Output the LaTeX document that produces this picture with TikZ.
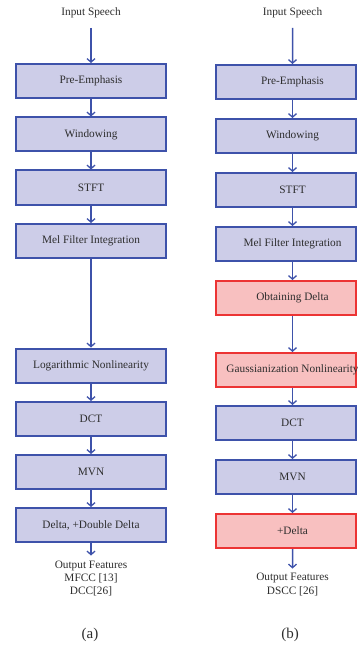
\documentclass[tikz,border=0pt]{standalone}
\usepackage{fontspec}
\setmainfont{Liberation Serif}
\usetikzlibrary{arrows.meta}
\definecolor{bfill}{RGB}{205,205,232}
\definecolor{bline}{RGB}{62,82,170}
\definecolor{rfill}{RGB}{248,192,192}
\definecolor{rline}{RGB}{236,52,52}
\definecolor{txt}{RGB}{45,45,45}
\begin{document}
\begin{tikzpicture}[x=1bp,y=-1bp,
  every node/.style={text=txt,font=\fontsize{11.3bp}{13.5bp}\selectfont},
  bbox/.style={draw=bline,fill=bfill,line width=2bp,minimum width=150bp,minimum height=34bp,inner sep=0pt},
  rbbox/.style={draw=bline,fill=bfill,line width=2bp,minimum width=140bp,minimum height=34bp,inner sep=0pt},
  rrbox/.style={draw=rline,fill=rfill,line width=2bp,minimum width=140bp,minimum height=34bp,inner sep=0pt},
  arr/.style={draw=bline,line width=1.5bp,-{Straight Barb[length=3.5bp,width=8bp,line width=1.3bp]}},
  lbl/.style={font=\fontsize{15bp}{18bp}\selectfont}
]
\useasboundingbox (0,0) rectangle (357,646);
\newcommand{\rt}[1]{\makebox[0pt]{\hspace*{13bp}#1}}
% ---------- left column ----------
\node (lin) at (91,12.7) {Input Speech};
\coordinate (ls) at (91,28);
\node[bbox] (lpe) at (91,81) {Pre-Emphasis};
\node[bbox] (lwin) at (91,134.5) {Windowing};
\node[bbox] (lstft) at (91,187.5) {STFT};
\node[bbox] (lmel) at (91,241) {Mel Filter Integration};
\node[bbox] (llog) at (91,365.5) {Logarithmic Nonlinearity};
\node[bbox] (ldct) at (91,419) {DCT};
\node[bbox] (lmvn) at (91,472) {MVN};
\node[bbox] (ldd) at (91,525) {Delta, +Double Delta};
\coordinate (le) at (91,555.5);
\node[align=center] (lout) at (91,579) {Output Features\\[-0.5bp]MFCC [13]\\[-0.5bp]DCC[26]};
\node[lbl] (la) at (90,635) {(a)};
\draw[arr] (ls) -- (lpe);
\draw[arr] (lpe) -- (lwin);
\draw[arr] (lwin) -- (lstft);
\draw[arr] (lstft) -- (lmel);
\draw[arr] (lmel) -- (llog);
\draw[arr] (llog) -- (ldct);
\draw[arr] (ldct) -- (lmvn);
\draw[arr] (lmvn) -- (ldd);
\draw[arr] (ldd) -- (le);
% ---------- right column ----------
\node (rin) at (292.5,12.7) {Input Speech};
\coordinate (rs) at (292.5,28);
\node[rbbox] (rpe) at (286,82) {\rt{Pre-Emphasis}};
\node[rbbox] (rwin) at (286,136) {\rt{Windowing}};
\node[rbbox] (rstft) at (286,190) {\rt{STFT}};
\node[rbbox] (rmel) at (286,244) {\rt{Mel Filter Integration}};
\node[rrbox] (rod) at (286,298) {\rt{Obtaining Delta}};
\node[rrbox] (rgn) at (286,370) {\rt{Gaussianization Nonlinearity}};
\node[rbbox] (rdct) at (286,423) {\rt{DCT}};
\node[rbbox] (rmvn) at (286,477) {\rt{MVN}};
\node[rrbox] (rpd) at (286,531) {\rt{+Delta}};
\coordinate (re) at (292.5,568.5);
\node[align=center] (rout) at (292.5,585) {Output Features\\[0.5bp]DSCC [26]};
\node[lbl] (rb) at (290,635) {(b)};
\draw[arr] (rs) -- ([xshift=6.5bp]rpe.north);
\draw[arr] ([xshift=6.5bp]rpe.south) -- ([xshift=6.5bp]rwin.north);
\draw[arr] ([xshift=6.5bp]rwin.south) -- ([xshift=6.5bp]rstft.north);
\draw[arr] ([xshift=6.5bp]rstft.south) -- ([xshift=6.5bp]rmel.north);
\draw[arr] ([xshift=6.5bp]rmel.south) -- ([xshift=6.5bp]rod.north);
\draw[arr] ([xshift=6.5bp]rod.south) -- ([xshift=6.5bp]rgn.north);
\draw[arr] ([xshift=6.5bp]rgn.south) -- ([xshift=6.5bp]rdct.north);
\draw[arr] ([xshift=6.5bp]rdct.south) -- ([xshift=6.5bp]rmvn.north);
\draw[arr] ([xshift=6.5bp]rmvn.south) -- ([xshift=6.5bp]rpd.north);
\draw[arr] ([xshift=6.5bp]rpd.south) -- (re);
\end{tikzpicture}
\end{document}
